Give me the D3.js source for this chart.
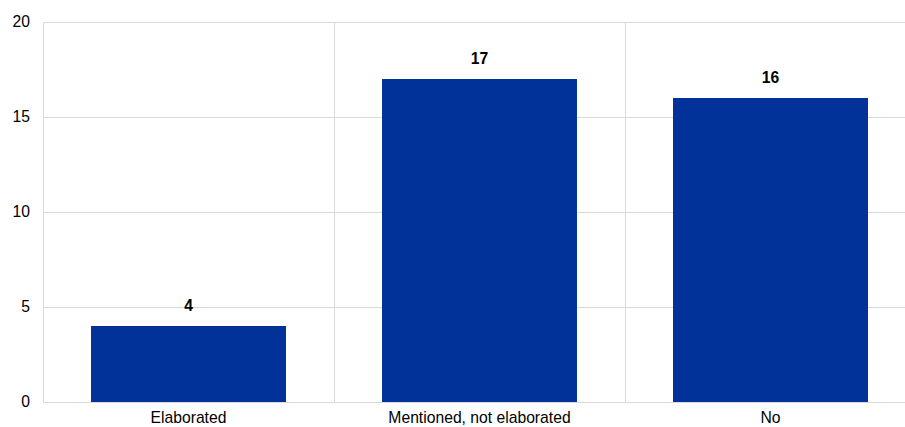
<!DOCTYPE html>
<html>
<head>
<meta charset="utf-8">
<script src="https://cdn.jsdelivr.net/npm/d3@7"></script>
<style>
  html, body { margin: 0; padding: 0; background: #fff; }
  svg { display: block; }
  text { font-family: "Liberation Sans", Arial, sans-serif; }
</style>
</head>
<body>
<svg id="chart" width="905" height="427"></svg>
<script>
// Chart data
const categories = ["Elaborated", "Mentioned, not elaborated", "No"];
const counts = [4, 17, 16];
const yTicks = [0, 5, 10, 15, 20];

const W = 905, H = 427;
const margin = { top: 22, left: 43, bottom: 25 };
const plotRight = 916; // last category band runs past the visible edge
const yBottom = H - margin.bottom;

const svg = d3.select("#chart");

const x = d3.scaleBand()
  .domain(categories)
  .range([margin.left, plotRight])
  .paddingInner(0.33)
  .paddingOuter(0.165);

const band = d3.scaleBand()
  .domain(categories)
  .range([margin.left, plotRight]);

const y = d3.scaleLinear().domain([0, 20]).range([yBottom, margin.top]);

const gridColor = "#d9d9d9";

// horizontal gridlines
svg.append("g")
  .selectAll("line")
  .data(yTicks)
  .join("line")
  .attr("x1", margin.left)
  .attr("x2", W)
  .attr("y1", d => Math.round(y(d)) + 0.5)
  .attr("y2", d => Math.round(y(d)) + 0.5)
  .attr("stroke", gridColor)
  .attr("stroke-width", 1);

// vertical category separators (left axis line included)
svg.append("g")
  .selectAll("line")
  .data(categories)
  .join("line")
  .attr("x1", d => Math.round(band(d)) + 0.5)
  .attr("x2", d => Math.round(band(d)) + 0.5)
  .attr("y1", margin.top)
  .attr("y2", yBottom)
  .attr("stroke", gridColor)
  .attr("stroke-width", 1);

// bars
svg.append("g")
  .selectAll("rect")
  .data(categories)
  .join("rect")
  .attr("x", d => x(d))
  .attr("width", x.bandwidth())
  .attr("y", (d, i) => y(counts[i]))
  .attr("height", (d, i) => y(0) - y(counts[i]))
  .attr("fill", "#003299");

// value labels
svg.append("g")
  .selectAll("text")
  .data(categories)
  .join("text")
  .attr("x", d => x(d) + x.bandwidth() / 2)
  .attr("y", (d, i) => y(counts[i]) - 15)
  .attr("text-anchor", "middle")
  .attr("font-size", "15.7px")
  .attr("font-weight", "bold")
  .attr("fill", "#000")
  .text((d, i) => counts[i]);

// y tick labels
svg.append("g")
  .selectAll("text")
  .data(yTicks)
  .join("text")
  .attr("x", 30)
  .attr("y", d => y(d))
  .attr("dy", "0.35em")
  .attr("text-anchor", "end")
  .attr("font-size", "15.7px")
  .attr("fill", "#000")
  .text(d => d);

// category labels
svg.append("g")
  .selectAll("text")
  .data(categories)
  .join("text")
  .attr("x", d => band(d) + band.bandwidth() / 2)
  .attr("y", 423)
  .attr("text-anchor", "middle")
  .attr("font-size", "15.7px")
  .attr("fill", "#000")
  .text(d => d);
</script>
</body>
</html>
